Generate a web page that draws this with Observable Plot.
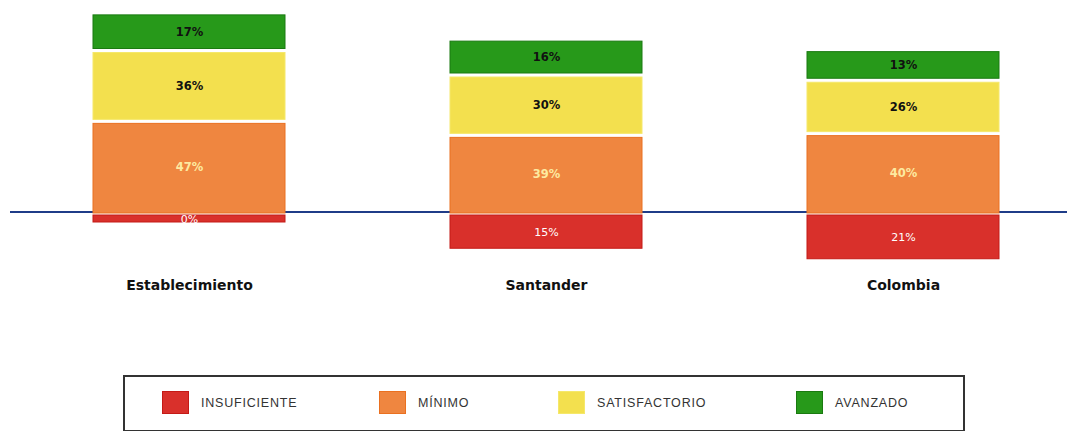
<!DOCTYPE html>
<html>
<head>
<meta charset="utf-8">
<script src="https://cdn.jsdelivr.net/npm/d3@7"></script>
<script src="https://cdn.jsdelivr.net/npm/@observablehq/plot@0.6"></script>
<style>
  html, body { margin: 0; padding: 0; background: #fff; }
  #chart svg { display: block; overflow: visible; }
  .legend {
    position: absolute; left: 123px; top: 375px; width: 838px; height: 53px;
    border: 2px solid #333; box-sizing: content-box;
    font-family: "Liberation Sans", sans-serif; font-size: 12.5px; letter-spacing: 0.8px; color: #333;
  }
  .item { display: flex; align-items: center; position: absolute; top: 14px; }
  .sw { width: 27px; height: 23px; margin-right: 12px; border: 1px solid; box-sizing: border-box; }
</style>
</head>
<body>
<div id="chart"></div>
<div class="legend" id="legend"></div>
<script>
const categories = ["Establecimiento", "Santander", "Colombia"];
const levels = ["INSUFICIENTE", "MÍNIMO", "SATISFACTORIO", "AVANZADO"];
const insuficiente = [0, 15, 21];
const minimo = [47, 39, 40];
const satisfactorio = [36, 30, 26];
const avanzado = [17, 16, 13];

const fills = ["#d9302b", "#ef8640", "#f3e04e", "#27991a"];
const strokes = ["#c41a16", "#ea7020", "#f5e86a", "#1a7a10"];
const pad = 4.5;    // minimum visible height added to each upper segment (in % units)
const padNeg = 6;   // minimum visible height added to the lower segment

const rows = [];
categories.forEach((c, i) => {
  rows.push({cat: c, level: levels[0], v: insuficiente[i], y1: 0, y2: -(insuficiente[i] + padNeg)});
  let base = 0;
  [[levels[1], minimo[i]], [levels[2], satisfactorio[i]], [levels[3], avanzado[i]]].forEach(([lv, v]) => {
    rows.push({cat: c, level: lv, v, y1: base, y2: base + v + pad});
    base += v + pad;
  });
});

const byLevel = l => rows.filter(d => d.level === l);

const chart = Plot.plot({
  width: 1067,
  height: 310,
  marginLeft: 10,
  marginRight: 0,
  marginTop: 0,
  marginBottom: 40,
  x: {domain: categories, range: [24, 1067], paddingInner: 0.463, paddingOuter: 0.19, label: null},
  y: {domain: [-33.43, 120.86], range: [270, 0], axis: null},
  marks: [
    Plot.ruleY([0], {stroke: "#1f3c88", strokeWidth: 2}),
    Plot.rectY(byLevel(levels[0]), {x: "cat", y1: "y1", y2: "y2", fill: fills[0], stroke: strokes[0], strokeWidth: 1, insetTop: 3.5}),
    Plot.rectY(byLevel(levels[1]), {x: "cat", y1: "y1", y2: "y2", fill: fills[1], stroke: strokes[1], strokeWidth: 1, insetTop: 2, insetBottom: -1.5}),
    Plot.rectY(byLevel(levels[2]), {x: "cat", y1: "y1", y2: "y2", fill: fills[2], stroke: strokes[2], strokeWidth: 1, insetTop: 2, insetBottom: 2}),
    Plot.rectY(byLevel(levels[3]), {x: "cat", y1: "y1", y2: "y2", fill: fills[3], stroke: strokes[3], strokeWidth: 1, insetTop: 2, insetBottom: 2}),
    Plot.text(rows.filter(d => d.level === levels[2] || d.level === levels[3]), {
      x: "cat", y: d => (d.y1 + d.y2) / 2, text: d => d.v + "%",
      fill: "#111", fontWeight: "bold", fontSize: 11.5, fontFamily: "DejaVu Sans"
    }),
    Plot.text(byLevel(levels[1]), {
      x: "cat", y: d => (d.y1 + d.y2) / 2, text: d => d.v + "%",
      fill: "#fdeaa0", fontWeight: "bold", fontSize: 11.5, fontFamily: "DejaVu Sans"
    }),
    Plot.text(byLevel(levels[0]), {
      x: "cat", y: d => (d.y1 + d.y2) / 2 - 1, text: d => d.v + "%",
      fill: "#ffffff", fontSize: 11, fontFamily: "DejaVu Sans", letterSpacing: "1px"
    }),
    Plot.axisX({tickSize: 0, tickPadding: 10, fontWeight: "bold", fontSize: 14, fontFamily: "DejaVu Sans", fill: "#111", letterSpacing: "0.7px", label: null})
  ]
});
document.getElementById("chart").appendChild(chart);

const legend = document.getElementById("legend");
const lefts = [37, 254, 433, 671];
levels.forEach((l, i) => {
  const it = document.createElement("div");
  it.className = "item";
  it.style.left = lefts[i] + "px";
  const sw = document.createElement("div");
  sw.className = "sw";
  sw.style.background = fills[i];
  sw.style.borderColor = strokes[i];
  const tx = document.createElement("span");
  tx.textContent = l;
  it.appendChild(sw); it.appendChild(tx);
  legend.appendChild(it);
});
</script>
</body>
</html>
